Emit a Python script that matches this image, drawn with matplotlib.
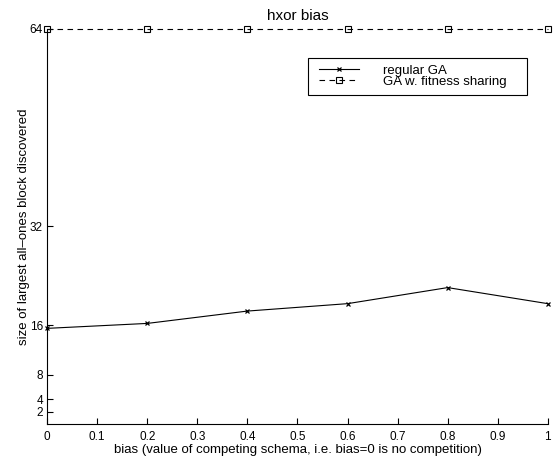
import matplotlib
matplotlib.use("Agg")
import matplotlib.pyplot as plt
from matplotlib.patches import Rectangle

bias = [0.0, 0.2, 0.4, 0.6, 0.8, 1.0]
regular_ga = [15.5, 16.3, 18.3, 19.5, 22.1, 19.5]
fitness_sharing = [64, 64, 64, 64, 64, 64]

xticks = [0, 0.1, 0.2, 0.3, 0.4, 0.5, 0.6, 0.7, 0.8, 0.9, 1]
xtick_labels = ["0", "0.1", "0.2", "0.3", "0.4", "0.5", "0.6", "0.7", "0.8", "0.9", "1"]
yticks = [2, 4, 8, 16, 32, 64]

plt.rcParams["font.family"] = ["Liberation Sans", "DejaVu Sans"]

fig = plt.figure(figsize=(5.55, 4.65), dpi=100)
ax = fig.add_axes([0.085, 0.088, 0.902, 0.850])

ax.plot(bias, regular_ga, "-", color="black", lw=0.8, marker="x", ms=3.5, mew=0.9,
        label="regular GA", clip_on=False)
ax.plot(bias, fitness_sharing, "--", color="black", lw=0.8, marker="s", ms=4, mew=0.8,
        mfc="none", dashes=(5, 4), label="GA w. fitness sharing", clip_on=False)

ax.set_xlim(0, 1)
ax.set_ylim(0, 64)
ax.set_xticks(xticks)
ax.set_xticklabels(xtick_labels)
ax.set_yticks(yticks)
ax.tick_params(direction="in", length=4, labelsize=8.5, width=0.8, pad=3)
ax.tick_params(axis="x", pad=5)
for s in ["top", "right"]:
    ax.spines[s].set_visible(False)
for s in ["left", "bottom"]:
    ax.spines[s].set_linewidth(0.8)

ax.set_title("hxor bias", fontsize=11, pad=6)
ax.set_xlabel("bias (value of competing schema, i.e. bias=0 is no competition)", fontsize=9.5, labelpad=1)
ax.set_ylabel("size of largest all\u2013ones block discovered", fontsize=9.5, labelpad=-0.5)

# legend entries without frame, box drawn separately (wider right margin)
ax.legend(loc="upper left", bbox_to_anchor=(0.532, 0.925), fontsize=9.5,
          frameon=False, handlelength=3.0, borderpad=0.45, labelspacing=-0.1,
          handletextpad=1.8, borderaxespad=0)
ax.add_patch(Rectangle((0.521, 0.833), 0.437, 0.093, transform=ax.transAxes,
                       fill=False, edgecolor="black", lw=0.8, clip_on=False))

fig.savefig("out.png", dpi=100)
